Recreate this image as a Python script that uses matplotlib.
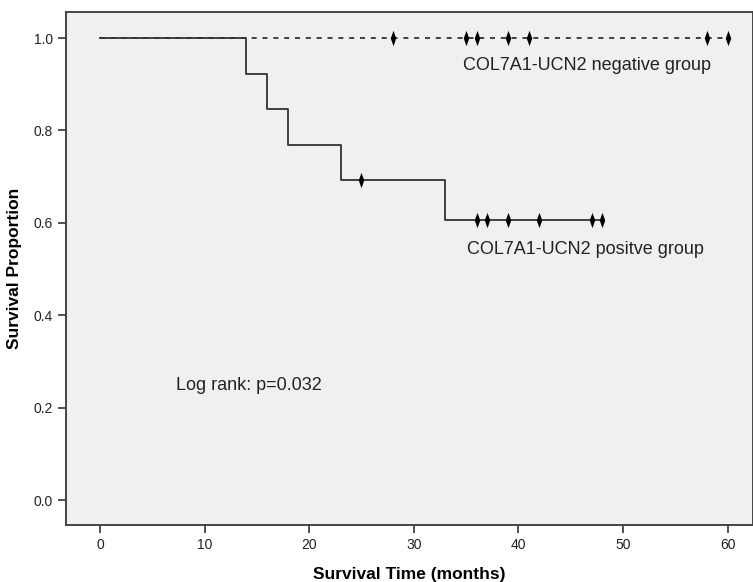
import numpy as np
import matplotlib
matplotlib.use("Agg")
import matplotlib.pyplot as plt
from matplotlib.path import Path

plt.rcParams["font.family"] = ["Liberation Sans", "DejaVu Sans"]

# positive group: step times and survival after each step
pos_times = [0, 14, 16, 18, 23, 33, 48]
pos_surv = [1.0, 0.923, 0.846, 0.769, 0.692, 0.606, 0.606]
pos_censor = [25, 36, 37, 39, 42, 47, 48]

# negative group: no events
neg_times = [0, 60]
neg_surv = [1.0, 1.0]
neg_censor = [28, 35, 36, 39, 41, 58, 60]

x_ticks = [0, 10, 20, 30, 40, 50, 60]
y_ticks = [0.0, 0.2, 0.4, 0.6, 0.8, 1.0]


def surv_at(times, surv, t):
    idx = np.searchsorted(times, t, side="right") - 1
    return surv[idx]


# narrow diamond like the SPSS censor mark
thin_diamond = Path([(0, 1), (0.36, 0), (0, -1), (-0.36, 0), (0, 1)],
                    [Path.MOVETO, Path.LINETO, Path.LINETO, Path.LINETO,
                     Path.CLOSEPOLY])

fig = plt.figure(figsize=(7.53, 5.82), dpi=100)
ax = fig.add_axes([0.0876, 0.098, 0.912, 0.881])
ax.set_facecolor("#f0f0f0")

ax.step(neg_times, neg_surv, where="post", color="#222222", lw=1.2,
        linestyle=(0, (3, 3.5)), zorder=2)
ax.step(pos_times, pos_surv, where="post", color="#333333", lw=1.3, zorder=3)

ax.plot(neg_censor, [surv_at(neg_times, neg_surv, t) for t in neg_censor],
        linestyle="none", marker=thin_diamond, markersize=11,
        markeredgewidth=0, color="black", zorder=4)
ax.plot(pos_censor, [surv_at(pos_times, pos_surv, t) for t in pos_censor],
        linestyle="none", marker=thin_diamond, markersize=11,
        markeredgewidth=0, color="black", zorder=4)

ax.text(34.7, 0.94, "COL7A1-UCN2 negative group", fontsize=13, va="center",
        color="#222222")
ax.text(35.1, 0.542, "COL7A1-UCN2 positve group", fontsize=13, va="center",
        color="#222222")
ax.text(7.3, 0.247, "Log rank: p=0.032", fontsize=13, va="center",
        color="#222222")

ax.set_xlim(-3.25, 62.4)
ax.set_ylim(-0.054, 1.056)
ax.set_xticks(x_ticks)
ax.set_yticks(y_ticks)
ax.set_yticklabels([f"{v:.1f}" for v in y_ticks])
ax.tick_params(direction="out", length=6, width=1.2, color="#333333",
               labelsize=10, labelcolor="#222222")

for s in ax.spines.values():
    s.set_color("#444444")
    s.set_linewidth(1.4)

ax.set_xlabel("Survival Time (months)", fontsize=12.5, fontweight="bold",
              labelpad=11)
ax.set_ylabel("Survival Proportion", fontsize=12.5, fontweight="bold",
              labelpad=8)

fig.savefig("out.png", dpi=100)
